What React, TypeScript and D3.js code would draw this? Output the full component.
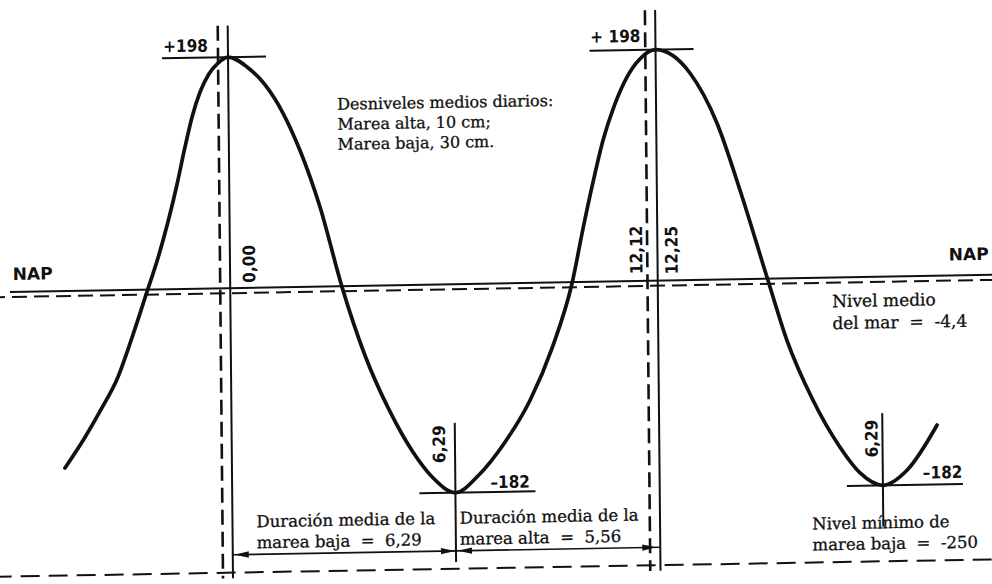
import React from 'react';
import * as d3 from 'd3';

const W = 992;
const H = 584;

// Tide curve: hours after first high water, level in cm relative to NAP
const tideHours = [
  -4.85, -4.29, -3.76, -3.31, -2.87, -2.42, -2.09, -1.79, -1.52, -1.28, -1.06, -0.82, -0.56, -0.29, 0,
  0.55, 1.07, 1.58, 2.06, 2.63, 3.25, 3.89, 4.61, 5.26, 5.84, 6.483,
  7.14, 7.94, 8.68, 9.33, 9.93, 10.26, 10.56, 10.87, 11.2, 11.58, 11.96, 12.417,
  13.41, 14.18, 14.83, 15.59, 16.15, 16.89, 17.66, 18.24, 18.9, 19.61, 20.49,
];
const tideLevels = [
  -154.5, -129.4, -102.6, -77.6, -42.0, -2.1, 26.9, 57.6, 89.2, 120.8, 147.3, 168.6, 183.9, 193.1, 198,
  189.3, 173.6, 149.3, 117.3, 68.2, -1, -60.4, -110.5, -145.8, -168.8, -182,
  -167.7, -138.5, -102.2, -57.2, -0.7, 45.4, 84.7, 121.4, 150.3, 175.0, 190.3, 198,
  177.5, 134.2, 76.5, 1.5, -53.8, -106.5, -147.9, -170.9, -182, -169.0, -130.2,
];

const highWaterHours = [0, 12.417];
const highWaterLabels = ['+198', '+ 198'];
const highLevel = 198;
const lowWaterHours = [6.483, 18.9];
const lowWaterLabels = ['–182', '–182'];
const lowWaterTimeLabels = ['6,29', '6,29'];
const lowLevel = -182;
const napLevel = 0;
const meanSeaLevel = -4.4;
const lowestLevel = -250;
const arrowLevel = -234;

const solidMarkHours = [0, 12.417];
const solidMarkTops = [225, 232];
const dashedMarkHours = [-0.29, 12.12];
const dashedMarkTops = [225, 232];
const markBottom = -255;
const lowMarkTops = [-121, -119];
const lowMarkBottoms = [-244, -219];

const timeLabels = ['0,00', '12,12', '12,25'];
const timeLabelHours = [0, 12.12, 12.417];

const infoLines = ['Desniveles medios diarios:', 'Marea alta, 10 cm;', 'Marea baja, 30 cm.'];
const meanLines = ['Nivel medio', 'del mar  =  -4,4'];
const lowDurationLines = ['Duración media de la', 'marea baja  =  6,29'];
const highDurationLines = ['Duración media de la', 'marea alta  =  5,56'];
const minLines = ['Nivel mínimo de', 'marea baja  =  -250'];

const SERIF = "'DejaVu Serif', 'Liberation Serif', serif";
const BOLD = "'DejaVu Sans Condensed', 'DejaVu Sans', sans-serif";
const INK = '#111';

export default function App() {
  const x = d3.scaleLinear().domain([0, 18.9]).range([230.3, 881]);
  const y = d3.scaleLinear().domain([-250, -182, 0, 198]).range([568, 492, 283.5, 52.5]);
  const pts: [number, number][] = tideHours.map((t, i) => [t, tideLevels[i]]);
  const line = d3
    .line<[number, number]>()
    .x((d) => x(d[0]))
    .y((d) => y(d[1]))
    .curve(d3.curveMonotoneX);

  const xLeft = x.invert(-10);
  const xRight = x.invert(W + 20);

  const arrowHead = (tipX: number, tipY: number, dir: number) => {
    const len = 14;
    const hw = 3.2;
    return `M${tipX},${tipY}L${tipX - dir * len},${tipY - hw}L${tipX - dir * len},${tipY + hw}Z`;
  };

  const ay = y(arrowLevel);
  const serifText = (lines: string[], x0: number, y0: number, dy: number, size: number, key: string) => (
    <text
      key={key}
      x={x0}
      y={y0}
      fontFamily={SERIF}
      fontSize={size}
      fill={INK}
      stroke={INK}
      strokeWidth={0.3}
      style={{ whiteSpace: 'pre' }}
    >
      {lines.map((l, i) => (
        <tspan key={i} x={x0} y={y0 + i * dy}>
          {l}
        </tspan>
      ))}
    </text>
  );

  const boldProps = { fontFamily: BOLD, fontWeight: 'bold' as const, fontSize: 17, fill: INK };

  return (
    <svg width={W} height={H} style={{ position: 'absolute', left: 0, top: 0, background: '#fff' }}>
      <rect x={0} y={0} width={W} height={H} fill="#fff" />
      <g transform="matrix(1,-0.01745,0.0096,1,-2.8,8.66)">
        {/* NAP */}
        <line x1={x(x.invert(10))} x2={x(xRight)} y1={y(napLevel)} y2={y(napLevel)} stroke={INK} strokeWidth={2} />
        {/* mean sea level */}
        <line x1={x(xLeft)} x2={x(xRight)} y1={y(meanSeaLevel)} y2={y(meanSeaLevel)} stroke={INK} strokeWidth={2} strokeDasharray="15 7" />
        {/* lowest low water */}
        <line x1={x(xLeft)} x2={x(xRight)} y1={y(lowestLevel)} y2={y(lowestLevel)} stroke={INK} strokeWidth={2} strokeDasharray="19 9" />

        {/* vertical marks */}
        {solidMarkHours.map((t, i) => (
          <line key={'s' + i} x1={x(t)} x2={x(t)} y1={y(solidMarkTops[i])} y2={y(markBottom)} stroke={INK} strokeWidth={2} />
        ))}
        {dashedMarkHours.map((t, i) => (
          <line key={'d' + i} x1={x(t)} x2={x(t)} y1={y(dashedMarkTops[i])} y2={y(markBottom)} stroke={INK} strokeWidth={2.6} strokeDasharray="15 7" />
        ))}
        {lowWaterHours.map((t, i) => (
          <line key={'l' + i} x1={x(t)} x2={x(t)} y1={y(lowMarkTops[i])} y2={y(lowMarkBottoms[i])} stroke={INK} strokeWidth={2} />
        ))}

        {/* extreme ticks */}
        {highWaterHours.map((t, i) => (
          <line key={'ht' + i} x1={x(t) - 66} x2={x(t) + 38} y1={y(highLevel)} y2={y(highLevel)} stroke={INK} strokeWidth={2} />
        ))}
        {lowWaterHours.map((t, i) => (
          <line key={'lt' + i} x1={x(t) - 36} x2={x(t) + 80} y1={y(lowLevel)} y2={y(lowLevel)} stroke={INK} strokeWidth={2} />
        ))}

        {/* tide curve */}
        <path d={line(pts) || ''} fill="none" stroke={INK} strokeWidth={3.7} strokeLinecap="round" strokeLinejoin="round" />

        {/* duration arrows */}
        <line x1={x(0)} x2={x(lowWaterHours[0])} y1={ay} y2={ay} stroke={INK} strokeWidth={1.6} />
        <line x1={x(lowWaterHours[0])} x2={x(highWaterHours[1])} y1={ay} y2={ay} stroke={INK} strokeWidth={1.6} />
        <path d={arrowHead(x(0) + 2, ay, -1)} fill={INK} />
        <path d={arrowHead(x(lowWaterHours[0]) - 1, ay, 1)} fill={INK} />
        <path d={arrowHead(x(lowWaterHours[0]) + 2, ay, -1)} fill={INK} />
        <path d={arrowHead(x(highWaterHours[1]) - 4, ay, 1)} fill={INK} />

        {/* labels */}
        <text x={x(0) - 20} y={y(highLevel) - 6} textAnchor="end" {...boldProps}>
          {highWaterLabels[0]}
        </text>
        <text x={x(highWaterHours[1]) - 15} y={y(highLevel) - 8} textAnchor="end" {...boldProps} style={{ whiteSpace: 'pre' }}>
          {highWaterLabels[1]}
        </text>

        <text transform={`translate(${x(timeLabelHours[0]) + 25},${y(napLevel) - 5}) rotate(-90)`} {...boldProps}>
          {timeLabels[0]}
        </text>
        <text transform={`translate(${x(timeLabelHours[1]) - 5},${y(napLevel) - 7}) rotate(-90)`} {...boldProps}>
          {timeLabels[1]}
        </text>
        <text transform={`translate(${x(timeLabelHours[2]) + 20},${y(napLevel) - 6}) rotate(-90)`} {...boldProps}>
          {timeLabels[2]}
        </text>

        <text transform={`translate(${x(lowWaterHours[0]) - 10},${y(lowLevel) - 30}) rotate(-90)`} {...boldProps}>
          {lowWaterTimeLabels[0]}
        </text>
        <text transform={`translate(${x(lowWaterHours[1]) - 5},${y(lowLevel) - 28}) rotate(-90)`} {...boldProps}>
          {lowWaterTimeLabels[1]}
        </text>
        <text x={x(lowWaterHours[0]) + 35} y={y(lowLevel) - 4} {...boldProps}>
          {lowWaterLabels[0]}
        </text>
        <text x={x(lowWaterHours[1]) + 40} y={y(lowLevel) - 6} {...boldProps}>
          {lowWaterLabels[1]}
        </text>

        <text x={13} y={y(napLevel) - 12} fontFamily="'DejaVu Sans', sans-serif" fontWeight="bold" fontSize={17} fill={INK}>
          NAP
        </text>
        <text x={949} y={y(napLevel) - 15} fontFamily="'DejaVu Sans', sans-serif" fontWeight="bold" fontSize={17} fill={INK}>
          NAP
        </text>

        {serifText(infoLines, 339, 107, 20, 16, 'info')}
        {serifText(meanLines, 832, 313, 22, 17, 'mean')}
        {serifText(lowDurationLines, x(0) + 24, 523, 21, 16.5, 'lowdur')}
        {serifText(highDurationLines, x(lowWaterHours[0]) + 4, 523, 21, 16.5, 'highdur')}
        {serifText(minLines, 810, 535, 21, 16.5, 'min')}
      </g>
    </svg>
  );
}
